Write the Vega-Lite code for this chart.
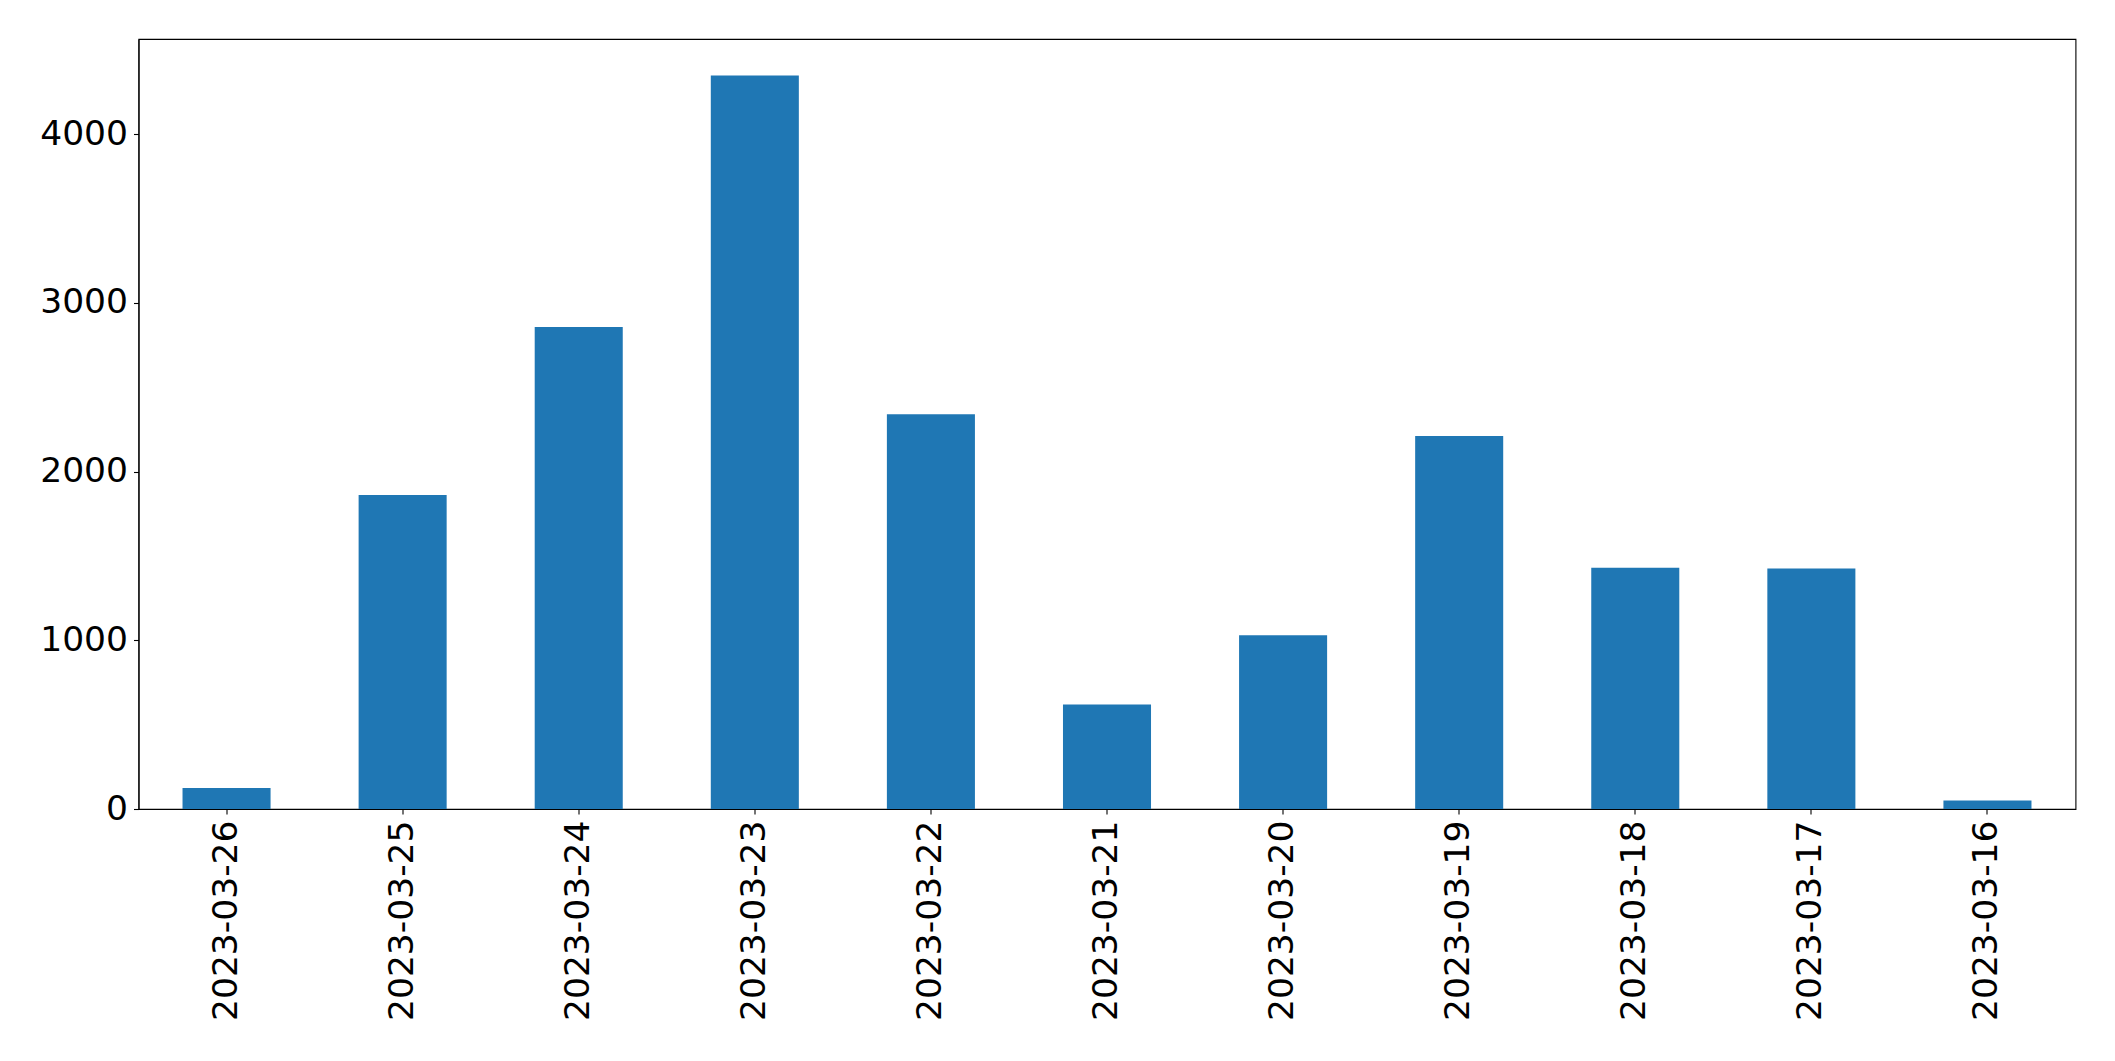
{
  "$schema": "https://vega.github.io/schema/vega-lite/v6.json",
  "autosize": {"type": "none"},
  "padding": {"left": 138.5, "top": 39, "right": 39.5, "bottom": 252},
  "width": 1937,
  "height": 770,
  "background": "white",
  "config": {
    "font": "DejaVu Sans",
    "view": {"stroke": "black", "strokeWidth": 1.1}
  },
  "data": {"values": [
    {"date": "2023-03-26", "count": 124},
    {"date": "2023-03-25", "count": 1861},
    {"date": "2023-03-24", "count": 2856},
    {"date": "2023-03-23", "count": 4346},
    {"date": "2023-03-22", "count": 2339},
    {"date": "2023-03-21", "count": 620},
    {"date": "2023-03-20", "count": 1030},
    {"date": "2023-03-19", "count": 2210},
    {"date": "2023-03-18", "count": 1430},
    {"date": "2023-03-17", "count": 1425},
    {"date": "2023-03-16", "count": 50}
  ]},
  "mark": {"type": "bar", "color": "#1f77b4"},
  "encoding": {
    "x": {"field": "date", "type": "nominal", "sort": null,
      "scale": {"paddingInner": 0.5, "paddingOuter": 0.25},
      "axis": {"title": null, "labelAngle": -90, "labelAlign": "right", "labelBaseline": "middle", "labelPadding": 6, "labelLimit": 0,
        "labelFontSize": 34.5, "labelFont": "DejaVu Sans", "labelColor": "black", "domainColor": "black", "domainWidth": 1.1, "tickColor": "black", "tickWidth": 1.1, "tickSize": 5}},
    "y": {"field": "count", "type": "quantitative",
      "scale": {"domain": [0, 4563], "nice": false},
      "axis": {"title": null, "values": [0, 1000, 2000, 3000, 4000], "format": "d", "labelPadding": 6, "grid": false,
        "labelFontSize": 34.5, "labelFont": "DejaVu Sans", "labelColor": "black", "domainColor": "black", "domainWidth": 1.1, "tickColor": "black", "tickWidth": 1.1, "tickSize": 5}}
  }
}
